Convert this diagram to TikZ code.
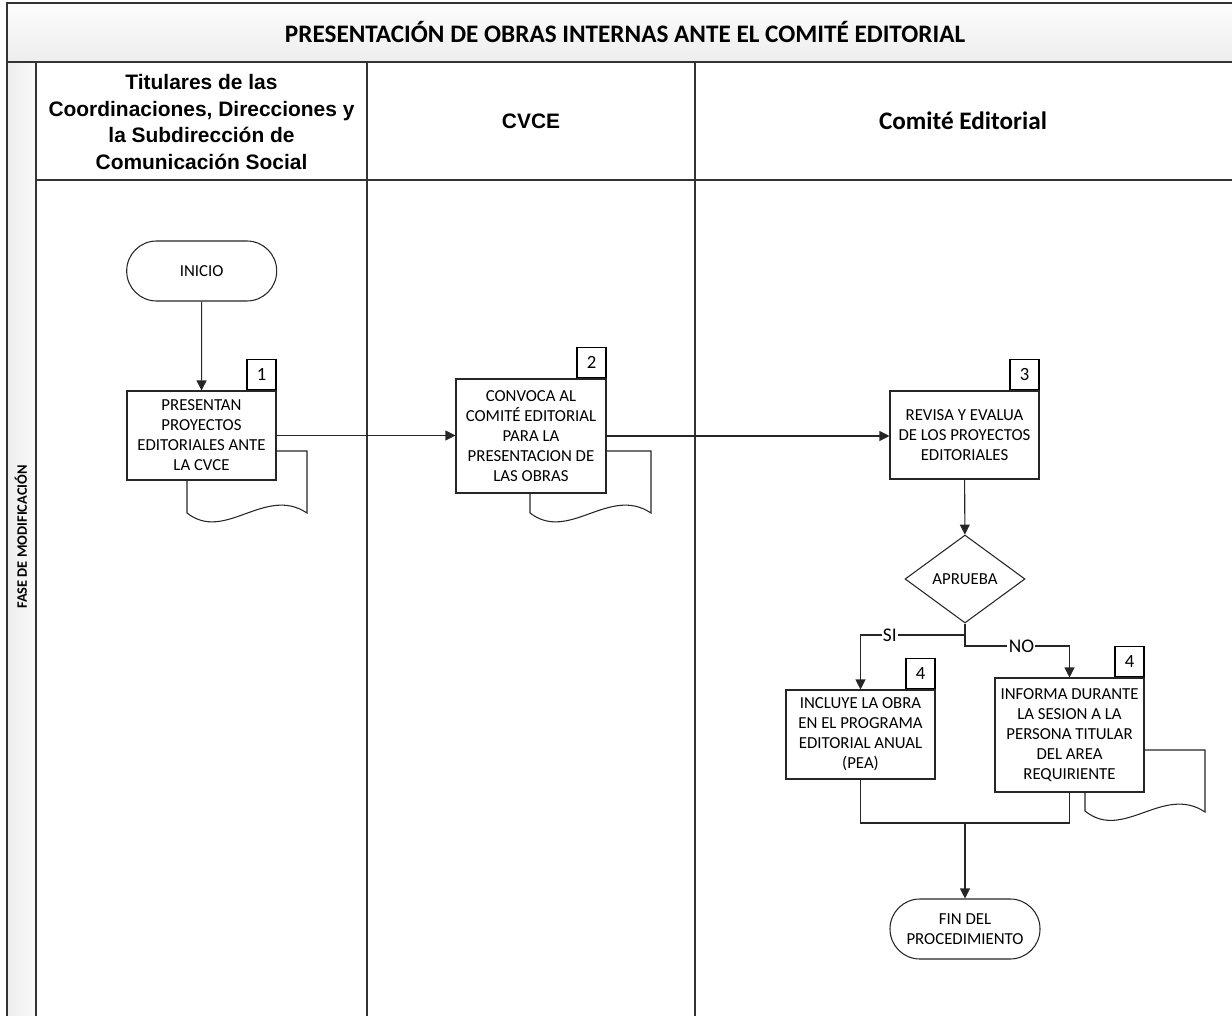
\documentclass[tikz,border=0pt]{standalone}
\usepackage{fontspec}
\setmainfont{Carlito}
\newfontfamily\arialfont{Liberation Sans}
\usetikzlibrary{arrows.meta,shapes.geometric,positioning}
\tikzset{
  pool/.style={draw=black!80, line width=1pt},
  flow/.style={draw=black!85, line width=0.8pt},
  arr/.style={flow, -{Triangle[length=7.5pt,width=7.5pt]}},
  task/.style={draw=black!85, line width=0.8pt, fill=white, align=center, inner sep=0pt,
    font=\fontsize{12.6}{15}\selectfont},
  numbox/.style={draw=black, line width=0.8pt, fill=white, minimum width=21.75pt, minimum height=22.5pt,
    inner sep=0pt, anchor=south east, font=\fontsize{14}{15}\selectfont},
  term/.style={draw=black!85, line width=0.8pt, fill=white, rounded corners=22.4pt, align=center,
    minimum width=112.5pt, minimum height=45pt, inner sep=0pt, font=\fontsize{12.6}{15}\selectfont},
  docshape/.style={draw=black!85, line width=0.8pt, fill=white},
  lbl/.style={fill=white, inner sep=1pt, font=\fontsize{14.5}{16}\selectfont},
}
\begin{document}
\begin{tikzpicture}[x=0.75pt, y=-0.75pt]
\useasboundingbox (0,0) rectangle (1232,1016);
\clip (0,0) rectangle (1232,1016);
% pool
\shade[top color=gray!2, bottom color=gray!14] (7,3) rectangle (1250,62);
\shade[left color=gray!14, right color=gray!4] (7,62) rectangle (36,1030);
\draw[pool] (7,1030) -- (7,3) -- (1250,3);
\draw[pool] (7,62) -- (1250,62);
\draw[pool] (36,62) -- (36,1030);
\draw[pool] (36,180) -- (1250,180);
\draw[pool] (367,62) -- (367,1030);
\draw[pool] (695,62) -- (695,1030);
\node (title) at (625,32) {\fontsize{18.9}{22}\selectfont\bfseries PRESENTACIÓN DE OBRAS INTERNAS ANTE EL COMITÉ EDITORIAL};
\node[align=center, font=\arialfont\bfseries\fontsize{15.7}{20}\selectfont] (h1) at (201.5,122)
  {Titulares de las\\Coordinaciones, Direcciones y\\la Subdirección de\\Comunicación Social};
\node[font=\arialfont\bfseries\fontsize{15.7}{20}\selectfont] (h2) at (531,121) {CVCE};
\node[font=\bfseries\fontsize{18.9}{22}\selectfont] (h3) at (963,121) {Comité Editorial};
\node[rotate=90, font=\bfseries\fontsize{10.8}{12}\selectfont] (fase) at (21,537) {FASE DE MODIFICACIÓN};

% documents (behind)
\draw[docshape] (187,451) -- (307,451) -- (307,513) .. controls (265,485) and (225,543) .. (187,513) -- cycle;
\draw[docshape] (530,451) -- (651,451) -- (651,513) .. controls (609,485) and (569,543) .. (530,513) -- cycle;
\draw[docshape] (1085,750) -- (1205,750) -- (1205,812) .. controls (1163,784) and (1123,842) .. (1085,811) -- cycle;

% nodes
\node[term] (ini) at (201.7,271) {INICIO};
\node[task, minimum width=111.75pt, minimum height=66.75pt] (b1) at (201.5,435.5)
  {PRESENTAN\\PROYECTOS\\EDITORIALES ANTE\\LA CVCE};
\node[numbox] (n1) at (b1.north east) {1};
\node[task, minimum width=112.5pt, minimum height=85.5pt] (b2) at (531,436)
  {CONVOCA AL\\COMITÉ EDITORIAL\\PARA LA\\PRESENTACION DE\\LAS OBRAS};
\node[numbox] (n2) at (b2.north east) {2};
\node[task, minimum width=111.75pt, minimum height=66pt] (b3) at (964.5,435)
  {REVISA Y EVALUA\\DE LOS PROYECTOS\\EDITORIALES};
\node[numbox] (n3) at (b3.north east) {3};
\node[diamond, draw=black!85, line width=0.8pt, fill=white, minimum width=90pt, minimum height=66pt,
  inner sep=0pt, font=\fontsize{12.6}{15}\selectfont] (dec) at (965,579) {APRUEBA};
\node[task, minimum width=111.75pt, minimum height=66.75pt] (b4a) at (860.5,734.5)
  {INCLUYE LA OBRA\\EN EL PROGRAMA\\EDITORIAL ANUAL\\(PEA)};
\node[numbox] (n4a) at (b4a.north east) {4};
\node[task, minimum width=111.75pt, minimum height=85.5pt] (b4b) at (1069.5,735)
  {INFORMA DURANTE\\LA SESION A LA\\PERSONA TITULAR\\DEL AREA\\REQUIRIENTE};
\node[numbox] (n4b) at (b4b.north east) {4};
\node[term] (fin) at (965,929) {FIN DEL\\PROCEDIMIENTO};

% connectors
\draw[arr] (ini) -- (b1);
\draw[arr] (b1.east) -- (b1.east -| b2.west);
\draw[arr] (b2.east) -- (b2.east -| b3.west);
\draw[arr] (b3) -- (dec);
\coordinate (ysi) at (965,635);
\coordinate (yno) at (965,646);
\draw[arr] (dec.south) -- (ysi) -| node[lbl, pos=0.36] {SI} (b4a.north);
\draw[arr] (ysi) -- (yno) -| node[lbl, pos=0.27] {NO} (b4b.north);
\coordinate (mrg) at (965,823);
\draw[flow] (b4a.south) |- (mrg);
\draw[flow] (b4b.south) |- (mrg);
\draw[arr] (mrg) -- (fin);
\end{tikzpicture}
\end{document}
